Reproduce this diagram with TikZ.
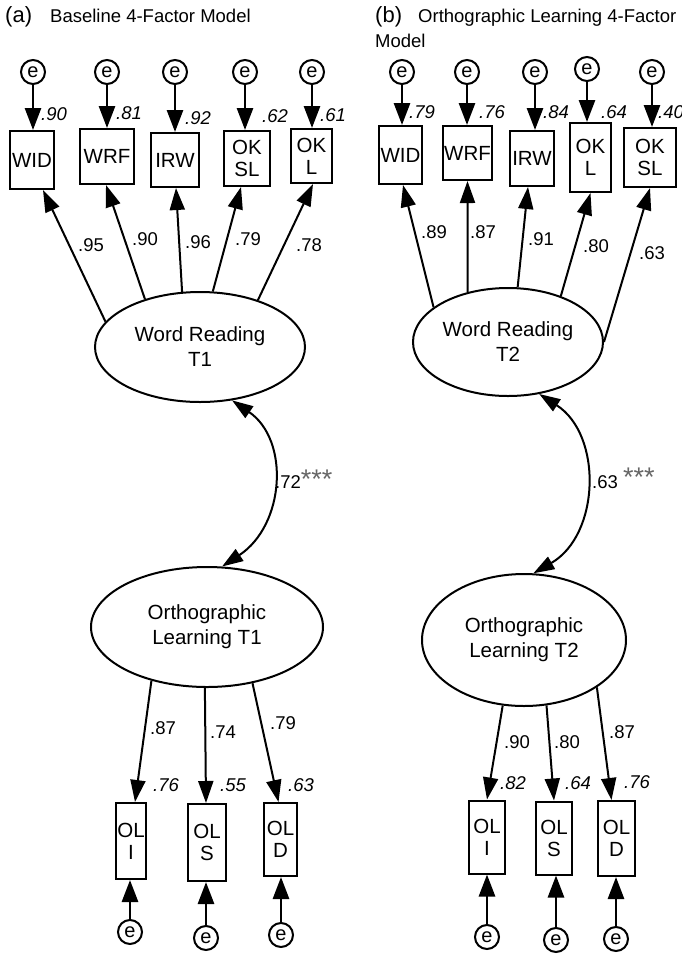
\documentclass[tikz,border=0pt]{standalone}
\usepackage{fontspec}
\setmainfont{Liberation Sans}
\usetikzlibrary{shapes.geometric, arrows.meta, positioning}

\newcommand{\sigstars}{{\color{black!60}\fontsize{27}{27}\selectfont***}}

\begin{document}
\begin{tikzpicture}[
    x=1pt, y=-1pt,
    lvbox/.style={rectangle, draw, line width=2pt, inner sep=0pt, align=center, font=\fontsize{20.5}{22}\selectfont},
    latent/.style={ellipse, draw, line width=2pt, inner sep=0pt, align=center, font=\fontsize{20.5}{25}\selectfont},
    errc/.style={circle, draw, line width=2pt, minimum size=24pt, inner sep=0pt, font=\fontsize{20}{20}\selectfont},
    loadlbl/.style={inner sep=0pt, font=\fontsize{18.5}{20}\selectfont},
    rsqlbl/.style={inner sep=0pt, font=\fontsize{18.5}{20}\selectfont\itshape},
    loadarrow/.style={-{Triangle[length=22pt,width=15pt]}, line width=2pt},
    errarrow/.style={-{Triangle[length=22pt,width=16pt]}, line width=2.8pt},
    covarrow/.style={{Triangle[length=21pt,width=14pt]}-{Triangle[length=21pt,width=14pt]}, line width=2pt},
    paneltag/.style={anchor=base west, inner sep=0pt, font=\fontsize{22}{25}\selectfont},
    titletext/.style={anchor=base west, inner sep=0pt, font=\fontsize{18.5}{25}\selectfont}
]
\useasboundingbox (0,0) rectangle (682,954);

% ============= (a) BASELINE MODEL =============
\node[paneltag] (tagA) at (5,22) {(a)};
\node[titletext] (ttlA) at (50,22) {Baseline 4-Factor Model};

% Word reading indicators
\node[lvbox, minimum width=44pt, minimum height=58pt] (widA) at (32,160) {WID};
\node[lvbox, minimum width=54pt, minimum height=55pt] (wrfA) at (107,156.5) {WRF};
\node[lvbox, minimum width=48pt, minimum height=54pt] (irwA) at (175,160) {IRW};
\node[lvbox, minimum width=46pt, minimum height=55pt] (okslA) at (247,158.5) {OK\\SL};
\node[lvbox, minimum width=41pt, minimum height=54pt] (oklA) at (311.5,156) {OK\\L};

% Error terms and R^2
\foreach \x/\n in {33/widA, 107/wrfA, 175/irwA, 245/okslA, 312/oklA} {
    \node[errc] (e-\n) at (\x,72) {e};
    \draw[errarrow] (e-\n) -- (e-\n |- \n.north);
}
\foreach \x/\y/\n/\v in {54/114/widA/.90, 129/113/wrfA/.81, 198/118/irwA/.92, 275/116/okslA/.62, 333/115/oklA/.61}
    \node[rsqlbl] (r-\n) at (\x,\y) {\v};

% Latent factor
\node[latent, minimum width=210pt, minimum height=110pt] (wrA) at (200,347) {Word Reading\\T1};

\foreach \a/\n/\s in {165/widA/11, 139/wrfA/-1, 108/irwA/1, 77/okslA/-6, 39/oklA/1.5}
    \draw[loadarrow] (wrA.\a) -- ([xshift=\s pt]\n.south);
\foreach \x/\y/\n/\v in {91/245/widA/.95, 145/239/wrfA/.90, 198/242/irwA/.96, 248/239/okslA/.79, 309/245/oklA/.78}
    \node[loadlbl] (l-\n) at (\x,\y) {\v};

% Orthographic learning factor
\node[latent, minimum width=232pt, minimum height=120pt] (olA) at (207,627) {Orthographic\\Learning T1};

\draw[covarrow] (wrA.-59) .. controls (290,440) and (285,525) .. (olA.76);
\node[loadlbl, anchor=base west] (covA) at (275,488) {.72\sigstars};

\node[lvbox, minimum width=30pt, minimum height=76pt] (oliA) at (131,841) {OL\\I};
\node[lvbox, minimum width=38pt, minimum height=77pt] (olsA) at (207,842.5) {OL\\S};
\node[lvbox, minimum width=33pt, minimum height=73pt] (oldA) at (280.5,839.5) {OL\\D};

\foreach \a/\n/\s in {-136/oliA/4, -92/olsA/-1, -51/oldA/-2}
    \draw[loadarrow] (olA.\a) -- ([xshift=\s pt]\n.north);
\foreach \x/\y/\n/\v in {163/728/oliA/.87, 223/732/olsA/.74, 283/723/oldA/.79}
    \node[loadlbl] (l-\n) at (\x,\y) {\v};
\foreach \x/\y/\n/\v in {166/785/oliA/.76, 233/785/olsA/.55, 301/785/oldA/.63}
    \node[rsqlbl] (r-\n) at (\x,\y) {\v};

\foreach \x/\y/\n in {130/932/oliA, 206/938/olsA, 281/935/oldA} {
    \node[errc] (e-\n) at (\x,\y) {e};
    \draw[errarrow] (e-\n) -- (e-\n |- \n.south);
}

% ============= (b) ORTHOGRAPHIC LEARNING MODEL =============
\node[paneltag] (tagB) at (375,22) {(b)};
\node[titletext] (ttlB) at (418,22) {Orthographic Learning 4-Factor};
\node[titletext] (ttlB2) at (375,47) {Model};

% Word reading indicators
\node[lvbox, minimum width=43pt, minimum height=58pt] (widB) at (400.5,155) {WID};
\node[lvbox, minimum width=49pt, minimum height=54pt] (wrfB) at (467.5,153) {WRF};
\node[lvbox, minimum width=44pt, minimum height=55pt] (irwB) at (532,158.5) {IRW};
\node[lvbox, minimum width=41pt, minimum height=69pt] (oklB) at (590.5,157.5) {OK\\L};
\node[lvbox, minimum width=52pt, minimum height=59pt] (okslB) at (650,157.5) {OK\\SL};

\foreach \x/\y/\n in {402/72/widB, 467/72/wrfB, 535/72/irwB, 587/69/oklB, 652/72/okslB} {
    \node[errc] (e-\n) at (\x,\y) {e};
    \draw[errarrow] (e-\n) -- (e-\n |- \n.north);
}
\foreach \x/\y/\n/\v in {422/112/widB/.79, 492/112/wrfB/.76, 556/112/irwB/.84, 614/112/oklB/.64, 671/112/okslB/.40}
    \node[rsqlbl] (r-\n) at (\x,\y) {\v};

\node[latent, minimum width=190pt, minimum height=108pt] (wrB) at (508,342) {Word Reading\\T2};

\foreach \a/\n/\s in {155/widB/2.5, 129/wrfB/0, 80/irwB/-4, 41/oklB/0, 0/okslB/0}
    \draw[loadarrow] (wrB.\a) -- ([xshift=\s pt]\n.south);
\foreach \x/\y/\n/\v in {434/232/widB/.89, 483/232/wrfB/.87, 541/239/irwB/.91, 596/246/oklB/.80, 652/253/okslB/.63}
    \node[loadlbl] (l-\n) at (\x,\y) {\v};

\node[latent, minimum width=204pt, minimum height=132pt] (olB) at (524,640) {Orthographic\\Learning T2};

\draw[covarrow] (wrB.-59) .. controls (603,435) and (600,535) .. (olB.82);
\node[loadlbl, anchor=base west] (covB) at (592,488) {.63 \raisebox{2pt}{\sigstars}};

\node[lvbox, minimum width=36pt, minimum height=73pt] (oliB) at (487,837) {OL\\I};
\node[lvbox, minimum width=36pt, minimum height=73pt] (olsB) at (554,838) {OL\\S};
\node[lvbox, minimum width=37pt, minimum height=75pt] (oldB) at (616.5,838.5) {OL\\D};

\foreach \a/\n/\s in {-108/oliB/0, -71.5/olsB/0, -33/oldB/-5}
    \draw[loadarrow] (olB.\a) -- ([xshift=\s pt]\n.north);
\foreach \x/\y/\n/\v in {517/742/oliB/.90, 567/742/olsB/.80, 622/732/oldB/.87}
    \node[loadlbl] (l-\n) at (\x,\y) {\v};
\foreach \x/\y/\n/\v in {513/783/oliB/.82, 578/783/olsB/.64, 637/782/oldB/.76}
    \node[rsqlbl] (r-\n) at (\x,\y) {\v};

\foreach \x/\y/\n in {487/937/oliB, 556/940/olsB, 616/939/oldB} {
    \node[errc] (e-\n) at (\x,\y) {e};
    \draw[errarrow] (e-\n) -- (e-\n |- \n.south);
}

\end{tikzpicture}
\end{document}
